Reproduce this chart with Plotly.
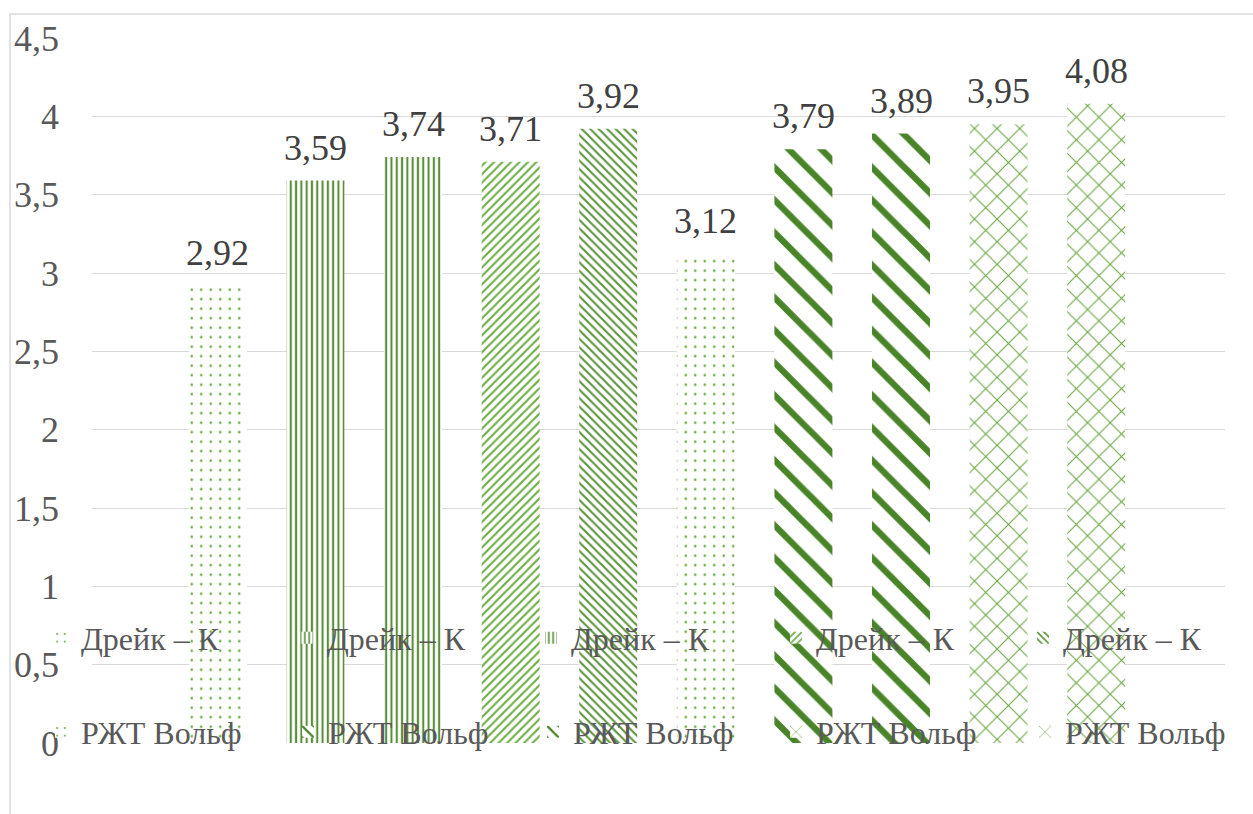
import plotly.graph_objects as go

categories = ["c1", "c2", "c3", "c4", "c5", "c6", "c7", "c8", "c9", "c10"]
series_names = ["Дрейк – К"] * 5 + ["РЖТ Вольф"] * 5
values = [2.92, 3.59, 3.74, 3.71, 3.92, 3.12, 3.79, 3.89, 3.95, 4.08]

patterns = [
    dict(shape=".", size=9.5, solidity=0.06, fgcolor="#70AD47"),
    dict(shape="|", size=5.3, solidity=0.4, fgcolor="#5B8D3B"),
    dict(shape="|", size=5.3, solidity=0.4, fgcolor="#5B8D3B"),
    dict(shape="/", size=6, solidity=0.36, fgcolor="#70AD47"),
    dict(shape="\\", size=6, solidity=0.36, fgcolor="#5E9440"),
    dict(shape=".", size=9.5, solidity=0.06, fgcolor="#70AD47"),
    dict(shape="\\", size=23, solidity=0.28, fgcolor="#4A8429"),
    dict(shape="\\", size=23, solidity=0.28, fgcolor="#4A8429"),
    dict(shape="x", size=16, solidity=0.13, fgcolor="#6AA543"),
    dict(shape="x", size=16, solidity=0.13, fgcolor="#6AA543"),
]

FONT = '"Times New Roman", "Liberation Serif", serif'

W, H = 1253, 814
L, R, T, B = 92, 28, 38, 71
pw, ph = W - L - R, H - T - B

def px_x(x):
    return (x - L) / pw

def px_y(y):
    return (H - B - y) / ph

# legend text left positions (px) and row centers (px)
legend_text_x = [83, 329, 573, 818, 1065, 83, 330, 575, 818, 1067]
legend_row_y = [638] * 5 + [732] * 5

fig = go.Figure()
legend_layout = {}
annotations = []
for i, (cat, name, v, pat) in enumerate(zip(categories, series_names, values, patterns)):
    lid = "legend" if i == 0 else f"legend{i+1}"
    pat = dict(pat, fgopacity=1)
    fig.add_trace(go.Bar(
        x=[cat], y=[v], name=name, legend=lid,
        marker=dict(color="white", line=dict(width=0), pattern=pat),
        hoverinfo="x+y",
    ))
    legend_layout[lid] = dict(
        orientation="h", bgcolor="rgba(0,0,0,0)", borderwidth=0,
        font=dict(family=FONT, size=32, color="#595959"),
        xanchor="left", yanchor="middle",
        x=px_x(legend_text_x[i] - 42), y=px_y(legend_row_y[i]),
    )
    annotations.append(dict(
        x=cat, y=v, xref="x", yref="y", text=f"{v:.2f}".replace(".", ","),
        showarrow=False, yanchor="bottom", yshift=11,
        font=dict(family=FONT, size=36, color="#404040"),
    ))

fig.update_layout(
    width=W, height=H,
    margin=dict(l=L, r=R, t=T, b=B),
    paper_bgcolor="white", plot_bgcolor="white",
    separators=", ",
    font=dict(family=FONT),
    barmode="overlay", bargap=0.406,
    showlegend=True,
    xaxis=dict(type="category", categoryorder="array", categoryarray=categories,
               range=[-1.29, 10.32], showticklabels=False, showgrid=False,
               zeroline=False, showline=False, ticks=""),
    yaxis=dict(range=[0, 4.5], dtick=0.5, tickformat=".1~f",
               showgrid=True, gridcolor="#D9D9D9", gridwidth=1.3,
               zeroline=False, showline=False, ticks="",
               ticklabelstandoff=32,
               tickfont=dict(family=FONT, size=36, color="#595959")),
    annotations=annotations,
    shapes=[dict(type="rect", xref="paper", yref="paper",
                 x0=px_x(10), x1=px_x(1270), y0=px_y(830), y1=px_y(14),
                 line=dict(color="#D9D9D9", width=1.5), fillcolor="rgba(0,0,0,0)",
                 layer="below")],
    **legend_layout,
)

fig.write_html("out.html")
